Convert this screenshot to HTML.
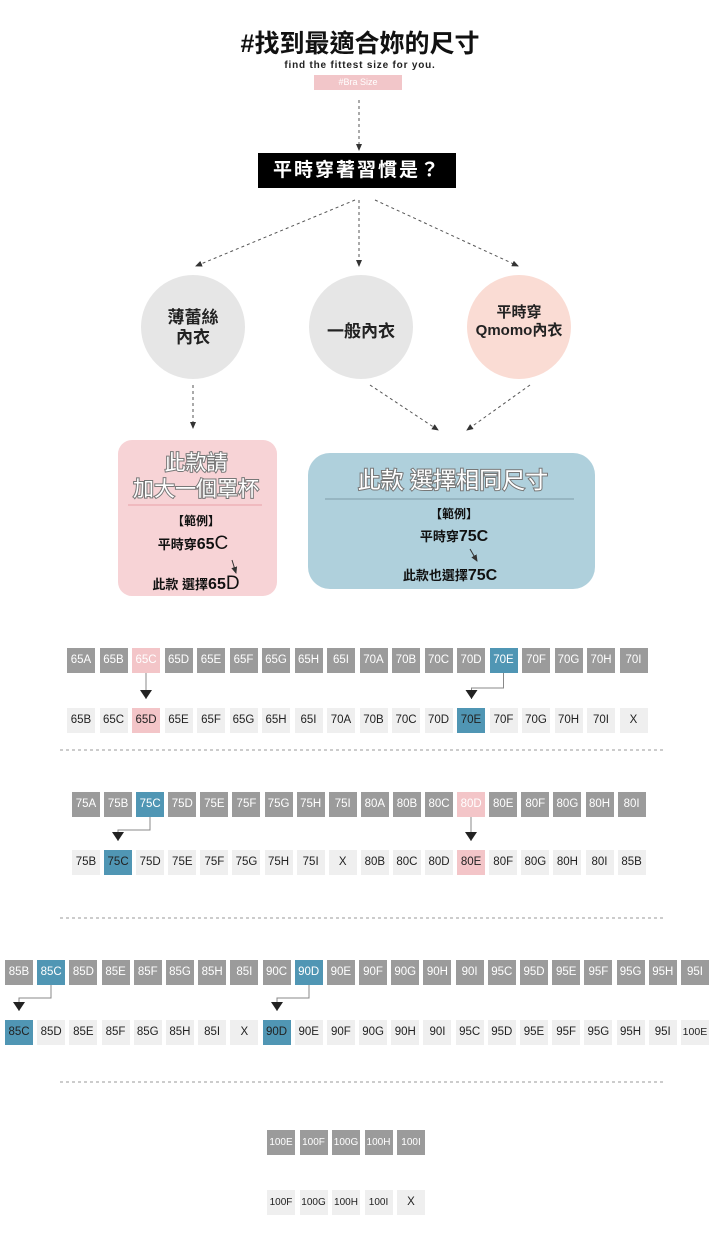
<!DOCTYPE html>
<html><head><meta charset="utf-8"><style>
body{margin:0;width:720px;height:1260px;background:#fff;position:relative;font-family:"Liberation Sans","Noto Sans CJK TC",sans-serif;overflow:hidden}
.a{position:absolute}
.row{position:absolute;display:flex}
.row div{width:28px;height:25px;line-height:25px;text-align:center;font-size:11.5px;flex:none}
.d{background:#9b9b9b;color:#fff}
.l{background:#efefef;color:#222}
.p{background:#f3c5c8!important;color:#fff}
.pl{background:#f3c5c8!important;color:#222!important}
.b{background:#5096b4!important;color:#fff!important}
.bd{background:#5096b4!important;color:#222!important}
</style></head><body>
<div class="a" style="left:0;width:720px;top:24px;text-align:center;font-size:25px;font-weight:bold;color:#111">#找到最適合妳的尺寸</div>
<div class="a" style="left:0;width:720px;top:60px;text-align:center;font-size:10px;font-weight:bold;color:#222;letter-spacing:0.8px">find the fittest size for you.</div>
<div class="a" style="left:314px;top:75px;width:88px;height:15px;background:#f2c6c9;color:#fff;font-size:9px;text-align:center;line-height:15px">#Bra Size</div>
<div class="a" style="left:258px;top:153px;width:198px;height:35px;background:#000;color:#fff;font-size:19px;font-weight:bold;text-align:center;line-height:35px;letter-spacing:2px">平時穿著習慣是？</div>
<div class="a" style="left:141px;top:275px;width:104px;height:104px;border-radius:50%;background:#e6e6e6"></div>
<div class="a" style="left:309px;top:275px;width:104px;height:104px;border-radius:50%;background:#e6e6e6"></div>
<div class="a" style="left:467px;top:275px;width:104px;height:104px;border-radius:50%;background:#fadcd4"></div>
<div class="a" style="left:141px;top:308px;width:104px;text-align:center;font-size:17px;font-weight:bold;line-height:20px;color:#222">薄蕾絲<br>內衣</div>
<div class="a" style="left:309px;top:317px;width:104px;text-align:center;font-size:17px;font-weight:bold;color:#222">一般內衣</div>
<div class="a" style="left:467px;top:304px;width:104px;text-align:center;font-size:15px;font-weight:bold;line-height:18px;color:#222">平時穿<br>Qmomo內衣</div>
<div class="a" style="left:118px;top:440px;width:159px;height:156px;border-radius:14px;background:#f7d3d6"></div>
<div class="a" style="left:308px;top:453px;width:287px;height:136px;border-radius:22px;background:#afd0dc"></div>
<svg class="a" style="left:0;top:0" width="720" height="1260">
<defs><marker id="m" markerWidth="8" markerHeight="8" refX="6" refY="4" orient="auto" markerUnits="userSpaceOnUse"><path d="M0,1 L7,4 L0,7z" fill="#333"/></marker>
<marker id="t" markerWidth="12" markerHeight="10" refX="6" refY="9" orient="0" markerUnits="userSpaceOnUse"><path d="M0,0 L12,0 L6,9z" fill="#222"/></marker></defs>
<g stroke="#555" stroke-width="1" stroke-dasharray="3,3" fill="none" marker-end="url(#m)">
<line x1="359" y1="100" x2="359" y2="150"/>
<line x1="355" y1="200" x2="196" y2="266"/>
<line x1="359" y1="200" x2="359" y2="266"/>
<line x1="375" y1="200" x2="518" y2="266"/>
<line x1="193" y1="385" x2="193" y2="428"/>
<line x1="370" y1="385" x2="438" y2="430"/>
<line x1="530" y1="385" x2="467" y2="430"/>
</g>
<g stroke="#999" stroke-dasharray="3,3"><line x1="60" y1="750" x2="664" y2="750"/><line x1="60" y1="918" x2="664" y2="918"/><line x1="60" y1="1082" x2="664" y2="1082"/></g>
<line x1="128" y1="505" x2="262" y2="505" stroke="#e9a0a8"/>
<line x1="325" y1="499" x2="574" y2="499" stroke="#7f9ca8"/>
<g font-family="Liberation Sans,Noto Sans CJK TC,sans-serif" text-anchor="middle" fill="#fff" stroke="#777" stroke-width="2" paint-order="stroke" font-size="21">
<text x="196" y="470">此款請</text><text x="196" y="496">加大一個罩杯</text>
<text x="453" y="488" font-size="23">此款 選擇相同尺寸</text></g>
<g font-family="Liberation Sans,Noto Sans CJK TC,sans-serif" fill="#111" font-weight="bold" text-anchor="middle">
<text x="196" y="525" font-size="12">【範例】</text>
<text x="193" y="549" font-size="13">平時穿<tspan font-size="16">65</tspan><tspan font-size="19" font-weight="normal">C</tspan></text>
<text x="196" y="589" font-size="13">此款 選擇<tspan font-size="16">65</tspan><tspan font-size="19" font-weight="normal">D</tspan></text>
<text x="454" y="518" font-size="12">【範例】</text>
<text x="454" y="541" font-size="13">平時穿<tspan font-size="16">75C</tspan></text>
<text x="450" y="580" font-size="13">此款也選擇<tspan font-size="16">75C</tspan></text>
</g>
<g stroke="#333" marker-end="url(#m)"><line x1="232" y1="560" x2="236" y2="573"/><line x1="470" y1="549" x2="477" y2="561"/></g>
<g stroke="#888" fill="none" marker-end="url(#t)">
<polyline points="146,672 146,699"/>
<polyline points="503.5,672 503.5,688 471.5,688 471.5,699"/>
<polyline points="150,816 150,830 118,830 118,841"/>
<polyline points="471,816 471,841"/>
<polyline points="51,984 51,998 19,998 19,1011"/>
<polyline points="309,984 309,998 277,998 277,1011"/>
</g>
</svg>
<div class="row" style="left:67px;top:648px;gap:4.5px"><div class="d">65A</div><div class="d">65B</div><div class="p">65C</div><div class="d">65D</div><div class="d">65E</div><div class="d">65F</div><div class="d">65G</div><div class="d">65H</div><div class="d">65I</div><div class="d">70A</div><div class="d">70B</div><div class="d">70C</div><div class="d">70D</div><div class="b">70E</div><div class="d">70F</div><div class="d">70G</div><div class="d">70H</div><div class="d">70I</div></div>
<div class="row" style="left:67px;top:708px;gap:4.5px"><div class="l">65B</div><div class="l">65C</div><div class="pl">65D</div><div class="l">65E</div><div class="l">65F</div><div class="l">65G</div><div class="l">65H</div><div class="l">65I</div><div class="l">70A</div><div class="l">70B</div><div class="l">70C</div><div class="l">70D</div><div class="bd">70E</div><div class="l">70F</div><div class="l">70G</div><div class="l">70H</div><div class="l">70I</div><div class="l">X</div></div>
<div class="row" style="left:72px;top:792px;gap:4.1px"><div class="d">75A</div><div class="d">75B</div><div class="b">75C</div><div class="d">75D</div><div class="d">75E</div><div class="d">75F</div><div class="d">75G</div><div class="d">75H</div><div class="d">75I</div><div class="d">80A</div><div class="d">80B</div><div class="d">80C</div><div class="p">80D</div><div class="d">80E</div><div class="d">80F</div><div class="d">80G</div><div class="d">80H</div><div class="d">80I</div></div>
<div class="row" style="left:72px;top:850px;gap:4.1px"><div class="l">75B</div><div class="bd">75C</div><div class="l">75D</div><div class="l">75E</div><div class="l">75F</div><div class="l">75G</div><div class="l">75H</div><div class="l">75I</div><div class="l">X</div><div class="l">80B</div><div class="l">80C</div><div class="l">80D</div><div class="pl">80E</div><div class="l">80F</div><div class="l">80G</div><div class="l">80H</div><div class="l">80I</div><div class="l">85B</div></div>
<div class="row" style="left:5px;top:960px;gap:4.2px"><div class="d">85B</div><div class="b">85C</div><div class="d">85D</div><div class="d">85E</div><div class="d">85F</div><div class="d">85G</div><div class="d">85H</div><div class="d">85I</div><div class="d">90C</div><div class="b">90D</div><div class="d">90E</div><div class="d">90F</div><div class="d">90G</div><div class="d">90H</div><div class="d">90I</div><div class="d">95C</div><div class="d">95D</div><div class="d">95E</div><div class="d">95F</div><div class="d">95G</div><div class="d">95H</div><div class="d">95I</div></div>
<div class="row" style="left:5px;top:1020px;gap:4.2px"><div class="bd">85C</div><div class="l">85D</div><div class="l">85E</div><div class="l">85F</div><div class="l">85G</div><div class="l">85H</div><div class="l">85I</div><div class="l">X</div><div class="bd">90D</div><div class="l">90E</div><div class="l">90F</div><div class="l">90G</div><div class="l">90H</div><div class="l">90I</div><div class="l">95C</div><div class="l">95D</div><div class="l">95E</div><div class="l">95F</div><div class="l">95G</div><div class="l">95H</div><div class="l">95I</div><div class="l" style="font-size:10.5px">100E</div></div>
<div class="row" style="left:267px;top:1130px;gap:4.5px"><div class="d" style="font-size:10px">100E</div><div class="d" style="font-size:10px">100F</div><div class="d" style="font-size:10px">100G</div><div class="d" style="font-size:10px">100H</div><div class="d" style="font-size:10px">100I</div></div>
<div class="row" style="left:267px;top:1190px;gap:4.5px"><div class="l" style="font-size:10px">100F</div><div class="l" style="font-size:10px">100G</div><div class="l" style="font-size:10px">100H</div><div class="l" style="font-size:10px">100I</div><div class="l">X</div></div>
</body></html>
